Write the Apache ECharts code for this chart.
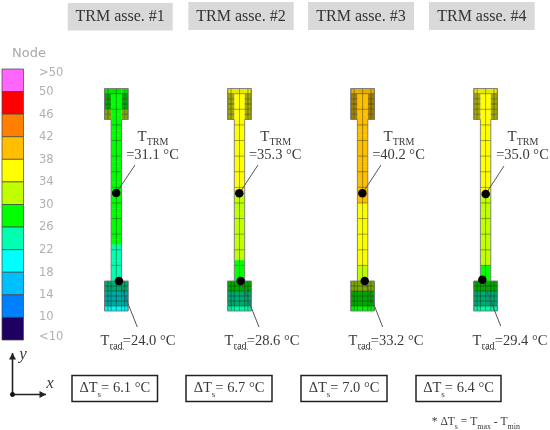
<!DOCTYPE html>
<html>
<head>
<meta charset="utf-8">
<style>html,body{margin:0;padding:0;background:#fff}#c{width:550px;height:430px;filter:blur(.4px)}</style>
<script src="https://cdn.jsdelivr.net/npm/echarts@6/dist/echarts.min.js"></script>
</head>
<body>
<div id="c"></div>
<script>
// ---------- data ----------
const categories = ['TRM asse. #1', 'TRM asse. #2', 'TRM asse. #3', 'TRM asse. #4'];
const tTRM = ['31.1', '35.3', '40.2', '35.0'];
const tRad = ['24.0', '28.6', '33.2', '29.4'];
const deltaTs = ['6.1', '6.7', '7.0', '6.4'];
const legendLabels = ['>50', '50', '46', '42', '38', '34', '30', '26', '22', '18', '14', '10', '<10'];
const legendColors = ['#ff66ff', '#ff0000', '#ff7f00', '#ffbf00', '#ffff00', '#bfff00', '#00ff00', '#00ffb0', '#00ffff', '#00bfff', '#007fff', '#1f0060'];
const legendLows = [50, 46, 42, 38, 34, 30, 26, 22, 18, 14, 10, -100];
const legendMids = [52, 48, 44, 40, 36, 32, 28, 24, 20, 16, 12, 8];

const stem1 = [28,28,28,28,28,28,28,28,28,28,28,28,28,28,28,28,28,28,28,28,28,28,28,28,28,28,28,28,28,28,24,24,24,24,24,24,24];
const stem2 = [36,36,36,36,36,36,36,36,36,36,36,36,36,36,36,36,36,36,36,36,32,32,32,32,32,32,32,32,32,32,32,32,32,28,28,28,28];
const stem3 = [40,40,40,40,40,40,40,40,40,40,40,40,40,40,40,40,40,40,40,40,40,40,36,36,36,36,36,36,36,36,36,36,36,36,32,32,32];
const stem4 = [36,36,36,36,36,36,36,36,36,36,36,36,36,36,36,36,36,36,36,36,32,32,32,32,32,32,32,32,32,32,32,32,32,32,28,28,28];
const head1 = [28,28,28,28,32,32];
const head2 = [36,36,36,36,36,36];
const head3 = [40,40,40,40,40,40];
const head4 = [36,36,36,36,36,36];
const block1 = [24,24,20,20,20,20];
const block2 = [28,28,24,24,24,24];
const block3 = [32,32,28,28,28,28];
const block4 = [28,28,24,24,24,24];

// ---------- layout ----------
const stems = [stem1, stem2, stem3, stem4], heads = [head1, head2, head3, head4], blocks = [block1, block2, block3, block4];
const centers = [116.3, 239.5, 362.6, 485.6];
const colEdges = [-11.8, -8.4, -5.2, 0, 5.2, 8.4, 11.8];
const headTop = 88.5, headBottom = 119.5, stemBottom = 281, blockBottom = 311;
const titleBoxes = [[67.7, 172.7, 3, 30.5], [188.3, 293.7, 2, 30], [308, 414, 2, 30], [429, 534.7, 2, 30]];
const deltaBoxes = [[72, 157.5], [186, 272], [301, 387], [416, 501]];
const topDots = [[116.2, 193], [239.3, 193.3], [362.4, 193.3], [485.7, 194]];
const topLeaderEnds = [[135, 165], [258, 165], [381, 165], [504, 166]];
const radDots = [[119, 281], [240.7, 281], [364.7, 281], [482.3, 279.7]];
const radLeaderEnds = [[137.3, 327], [259, 327], [382.7, 327], [500.7, 326]];
const tTrmX = [153, 275.7, 399, 523];
const tRadX = [138, 262, 386, 510];

function binColor(t) {
  for (let i = 0; i < legendLows.length; i++) if (t > legendLows[i]) return legendColors[i];
  return legendColors[legendColors.length - 1];
}
function shade(hex, f) {
  const n = parseInt(hex.slice(1), 16);
  const ch = s => Math.round(((n >> s) & 255) * f);
  return 'rgb(' + ch(16) + ',' + ch(8) + ',' + ch(0) + ')';
}

// ---------- build cells ----------
const cells = [], mesh = [], outlines = [], leaders = [];
legendMids.forEach((m, i) => {
  const h = (340 - 69) / 12;
  cells.push([2, 23.5, 69 + i * h, 69 + (i + 1) * h, m, 1, '#444']);
});
stems.forEach((vals, k) => {
  const c = centers[k], n = vals.length, rh = (stemBottom - headTop) / n;
  vals.forEach((t, i) => cells.push([c - 5.2, c + 5.2, headTop + i * rh, headTop + (i + 1) * rh + .3, t, 1]));
  const hh = (headBottom - headTop) / 6;
  heads[k].forEach((t, r) => {
    for (let q = 0; q < 6; q++) {
      if (r > 0 && (q === 2 || q === 3)) continue;
      cells.push([c + colEdges[q], c + colEdges[q + 1], headTop + r * hh, headTop + (r + 1) * hh, t, r === 0 ? .9 : .66]);
    }
  });
  const bh = (blockBottom - stemBottom) / 6;
  blocks[k].forEach((t, r) => {
    cells.push([c - 11.8, c + 11.8, stemBottom + r * bh, stemBottom + (r + 1) * bh, t, r === 5 ? .96 : .66]);
  });
  const a = 0.55;
  for (let i = 1; i < n; i += 3) mesh.push([c - 5.2, headTop + i * rh, c + 5.2, headTop + i * rh, a]);
  mesh.push([c, headTop, c, stemBottom, a]);
  colEdges.forEach(e => {
    if (Math.abs(e) > 5.3) mesh.push([c + e, headTop, c + e, headBottom, a]);
    mesh.push([c + e, stemBottom, c + e, blockBottom, a]);
  });
  for (let r = 1; r < 6; r++) {
    mesh.push([c - 11.8, headTop + r * hh, c - 5.2, headTop + r * hh, a]);
    mesh.push([c + 5.2, headTop + r * hh, c + 11.8, headTop + r * hh, a]);
    mesh.push([c - 11.8, stemBottom + r * bh, c + 11.8, stemBottom + r * bh, a]);
  }
  [[c - 11.8, headTop, c + 11.8, headTop], [c - 11.8, headBottom, c - 5.2, headBottom], [c + 5.2, headBottom, c + 11.8, headBottom],
   [c - 11.8, headTop, c - 11.8, headBottom], [c + 11.8, headTop, c + 11.8, headBottom],
   [c - 5.2, headBottom, c - 5.2, stemBottom], [c + 5.2, headBottom, c + 5.2, stemBottom],
   [c - 11.8, stemBottom, c + 11.8, stemBottom], [c - 11.8, blockBottom, c + 11.8, blockBottom],
   [c - 11.8, stemBottom, c - 11.8, blockBottom], [c + 11.8, stemBottom, c + 11.8, blockBottom]
  ].forEach(s => outlines.push(s.concat(.7)));
  leaders.push([topDots[k][0], topDots[k][1], topLeaderEnds[k][0], topLeaderEnds[k][1]]);
  leaders.push([radDots[k][0], radDots[k][1], radLeaderEnds[k][0], radLeaderEnds[k][1]]);
});
const dots = topDots.concat(radDots);
const meshAll = mesh.concat(outlines);

// ---------- text ----------
const serif = '"Liberation Serif"';
const ink = '#3a3a3a';
function rich(size, sub) {
  return {
    a: { fontFamily: serif, fontSize: size, fill: ink, color: ink, lineHeight: size + 6 },
    s: { fontFamily: serif, fontSize: sub, fill: ink, color: ink, lineHeight: size + 6, verticalAlign: 'bottom' }
  };
}
const texts = [];
categories.forEach((t, k) => {
  const b = titleBoxes[k];
  texts.push({ text: t, x: (b[0] + b[1]) / 2, y: (b[2] + b[3]) / 2 + .5, size: 16, color: '#333', family: serif });
  texts.push({ text: '{a|T}{s|TRM}', x: tTrmX[k], y: 137, rich: rich(15, 10) });
  texts.push({ text: '=' + tTRM[k] + ' °C', x: tTrmX[k] - .5, y: 155, size: 14.5, color: ink, family: serif });
  texts.push({ text: '{a|T}{s|rad}{a|=' + tRad[k] + ' °C}', x: tRadX[k], y: 341, rich: rich(14.5, 10.5) });
  const d = deltaBoxes[k];
  texts.push({ text: '{a|ΔT}{s|s}{a|= ' + deltaTs[k] + ' °C}', x: (d[0] + d[1]) / 2, y: 388.5, rich: rich(14.5, 9) });
});
const legendLabelY = [73, 92, 115, 137, 160, 182, 205, 227, 250, 273, 295, 317, 337];
legendLabels.forEach((t, i) => {
  texts.push({ text: t, x: 39, y: legendLabelY[i], size: 11.5, color: '#b0b0b0', family: '"DejaVu Sans"', align: 'left' });
});
texts.push({ text: 'Node', x: 29, y: 54, size: 13, color: '#a8a8a8', family: '"DejaVu Sans"' });
texts.push({ text: 'y', x: 23, y: 355, size: 17, color: ink, family: serif, italic: true });
texts.push({ text: 'x', x: 50, y: 384, size: 17, color: ink, family: serif, italic: true });
texts.push({ text: '{a|* ΔT}{s|s}{a| = T}{s|max}{a| - T}{s|min}', x: 520, y: 422, align: 'right', rich: rich(11.5, 8) });

const rects = titleBoxes.map(b => [b[0], b[1], b[2], b[3], '#d9d9d9', null]).concat(
  deltaBoxes.map(d => [d[0], d[1], 375.5, 401.5, '#fff', '#222']));
const arrows = [[12.5, 394.5, 12.5, 353], [12.5, 394.5, 46, 394.5]];
const redMarks = tRadX.map(x => [x - 27, 349.5, x - 14, 349.5]);

function pt(api, x, y) { return api.coord([x, y]); }
const option = {
  animation: false,
  backgroundColor: '#fff',
  grid: { left: 0, right: 0, top: 0, bottom: 0 },
  xAxis: { type: 'value', min: 0, max: 550, show: false },
  yAxis: { type: 'value', min: 0, max: 430, inverse: true, show: false },
  series: [
    { type: 'custom', name: 'boxes', silent: true, z: 1, clip: false, data: rects,
      renderItem: (p, api) => {
        const r = rects[p.dataIndex], a = pt(api, r[0], r[2]), b = pt(api, r[1], r[3]);
        return { type: 'rect', shape: { x: a[0], y: a[1], width: b[0] - a[0], height: b[1] - a[1] },
                 style: { fill: r[4], stroke: r[5], lineWidth: r[5] ? 1.5 : 0 } };
      } },
    { type: 'custom', name: 'temperature cells', silent: true, z: 2, clip: false, data: cells,
      renderItem: (p, api) => {
        const r = cells[p.dataIndex], a = pt(api, r[0], r[2]), b = pt(api, r[1], r[3]);
        return { type: 'rect', shape: { x: a[0], y: a[1], width: b[0] - a[0], height: b[1] - a[1] },
                 style: { fill: shade(binColor(r[4]), r[5]), stroke: r[6] || null, lineWidth: r[6] ? .7 : 0 } };
      } },
    { type: 'custom', name: 'mesh', silent: true, z: 3, clip: false, data: meshAll,
      renderItem: (p, api) => {
        const r = meshAll[p.dataIndex], a = pt(api, r[0], r[1]), b = pt(api, r[2], r[3]);
        const isOut = p.dataIndex >= mesh.length;
        return { type: 'line', shape: { x1: a[0], y1: a[1], x2: b[0], y2: b[1] },
                 style: { stroke: isOut ? '#777' : 'rgba(0,30,0,' + r[4] + ')', lineWidth: isOut ? .9 : .7 } };
      } },
    { type: 'custom', name: 'leaders', silent: true, z: 4, clip: false, data: leaders,
      renderItem: (p, api) => {
        const r = leaders[p.dataIndex], a = pt(api, r[0], r[1]), b = pt(api, r[2], r[3]);
        return { type: 'line', shape: { x1: a[0], y1: a[1], x2: b[0], y2: b[1] }, style: { stroke: '#555', lineWidth: 1 } };
      } },
    { type: 'scatter', name: 'points', silent: true, z: 5, symbol: 'circle', symbolSize: 8.5, data: dots, itemStyle: { color: '#000', opacity: 1 } },
    { type: 'custom', name: 'red marks', silent: true, z: 6, clip: false, data: redMarks,
      renderItem: (p, api) => {
        const r = redMarks[p.dataIndex], a = pt(api, r[0], r[1]), b = pt(api, r[2], r[3]);
        return { type: 'line', shape: { x1: a[0], y1: a[1], x2: b[0], y2: b[1] }, style: { stroke: '#e46a6a', lineWidth: 1, lineDash: [2, 1] } };
      } },
    { type: 'custom', name: 'axes arrows', silent: true, z: 6, clip: false, data: arrows,
      renderItem: (p, api) => {
        const r = arrows[p.dataIndex], a = pt(api, r[0], r[1]), b = pt(api, r[2], r[3]);
        const up = p.dataIndex === 0;
        const head = up ? [[b[0], b[1]], [b[0] - 3.5, b[1] + 6.5], [b[0] + 3.5, b[1] + 6.5]]
                        : [[b[0], b[1]], [b[0] - 6.5, b[1] - 3.5], [b[0] - 6.5, b[1] + 3.5]];
        return { type: 'group', children: [
          { type: 'line', shape: { x1: a[0], y1: a[1], x2: b[0], y2: b[1] }, style: { stroke: '#222', lineWidth: 1.6 } },
          { type: 'polygon', shape: { points: head }, style: { fill: '#222' } },
          { type: 'circle', shape: { cx: a[0], cy: a[1], r: 2.3 }, style: { fill: '#111' } }
        ] };
      } },
    { type: 'custom', name: 'texts', silent: true, z: 7, clip: false, data: texts.map((t, i) => [t.x, t.y, i]),
      renderItem: (p, api) => {
        const t = texts[p.dataIndex], a = pt(api, t.x, t.y);
        const st = { text: t.text, x: a[0], y: a[1], align: t.align || 'center', verticalAlign: 'middle' };
        if (t.rich) { st.rich = t.rich; st.fill = ink; }
        else {
          st.fontFamily = t.family; st.fontSize = t.size; st.fill = t.color;
          if (t.italic) st.fontStyle = 'italic';
        }
        return { type: 'text', style: st };
      } }
  ]
};
echarts.init(document.getElementById('c'), null, { renderer: 'canvas' }).setOption(option);
</script>
</body>
</html>
